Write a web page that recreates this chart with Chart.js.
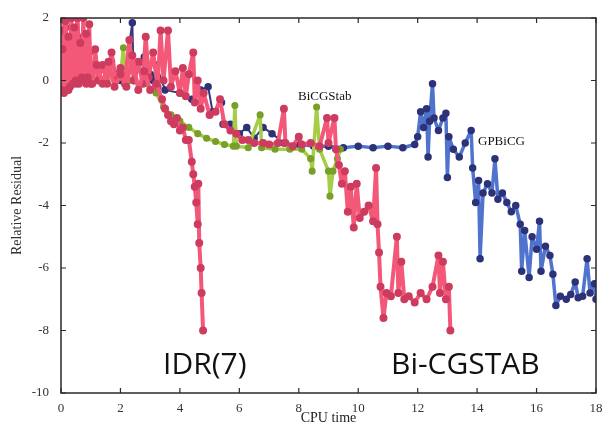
<!DOCTYPE html>
<html>
<head>
<meta charset="utf-8">
<script src="https://cdn.jsdelivr.net/npm/chart.js@4"></script>
<style>
  html, body { margin: 0; padding: 0; background: #fff; }
  #wrap { width: 605px; height: 427px; position: relative; }
</style>
</head>
<body>
<div id="wrap"><canvas id="chart" width="605" height="427"></canvas></div>
<script>
// values (CPU time vs log10 relative residual)
const xTicks = [0, 2, 4, 6, 8, 10, 12, 14, 16, 18];
const yTicks = [-10, -8, -6, -4, -2, 0, 2];

const idrX = [0, 0.05, 0.1, 0.15, 0.2, 0.25, 0.3, 0.35, 0.4, 0.45, 0.5, 0.55, 0.6, 0.65, 0.7, 0.75, 0.8, 0.85, 0.9, 0.95, 1.0, 1.2, 1.4, 1.6, 1.8, 2.0, 2.2, 2.4, 2.6, 2.8, 3.0, 3.2, 3.4, 3.5, 3.6, 3.7, 3.8, 3.9, 4.0, 4.1, 4.2, 4.3, 4.4, 4.45, 4.5, 4.55, 4.6, 4.62, 4.65, 4.7, 4.73, 4.78];
const idrY = [-0.3, 1.0, -0.4, 1.9, -0.3, 1.4, -0.2, 2.0, -0.1, 1.7, 0.0, 2.0, -0.1, 1.2, 0.1, 2.0, 0.0, 1.5, 0.1, 1.8, -0.1, 0.5, -0.1, 0.6, -0.2, 0.2, -0.2, 0.8, -0.3, 0.3, -0.3, -0.1, -0.6, -0.9, -1.1, -1.3, -1.4, -1.2, -1.6, -1.5, -1.9, -1.9, -2.6, -3.0, -3.4, -3.9, -4.6, -3.3, -5.2, -6.0, -6.8, -8.0];

const bicgX = [0, 0.08, 0.15, 0.25, 0.3, 0.35, 0.45, 0.5, 0.55, 0.65, 0.75, 0.85, 0.95, 1.05, 1.15, 1.25, 1.4, 1.55, 1.7, 1.85, 2.0, 2.15, 2.3, 2.45, 2.6, 2.75, 2.85, 2.95, 3.1, 3.25, 3.35, 3.45, 3.6, 3.7, 3.85,
  4.0, 4.1, 4.2, 4.3, 4.45, 4.5, 4.6, 4.7, 4.8, 5.0, 5.2, 5.35, 5.5, 5.7, 5.9, 6.1, 6.3, 6.5, 6.8, 7.0, 7.3, 7.5, 7.55, 7.8, 8.0, 8.1, 8.4, 8.7, 8.95, 9.0, 9.2, 9.25, 9.35, 9.45, 9.55, 9.65, 9.75, 9.85, 9.95,
  10.05, 10.2, 10.35, 10.5, 10.6, 10.65, 10.7, 10.75, 10.85, 10.95, 11.1, 11.3, 11.35, 11.45, 11.55, 11.7, 11.9, 12.1, 12.3, 12.5, 12.7, 12.75, 12.85, 12.95, 13.05, 13.1];
const bicgY = [-0.2, 1.6, 2.0, -0.3, 0.9, 1.7, 0.0, 1.1, 2.0, 0.2, 1.4, -0.1, 0.9, -0.1, 1.0, 0.0, 0.5, -0.1, 0.9, 0.0, 0.4, -0.1, 1.3, 0.0, 0.6, -0.1, 1.4, 0.1, 0.9, -0.2, 1.6, 0.0, 1.6, -0.2, 0.3,
  -0.4, 0.4, -0.5, 0.2, 0.9, -0.7, 0.0, -0.9, -0.4, -1.1, -1.0, -0.6, -1.4, -1.6, -1.7, -1.9, -1.9, -2.0, -2.0, -2.05, -2.0, -0.9, -2.0, -2.1, -1.8, -2.05, -2.0, -2.1, -1.2, -2.0, -1.2, -2.2, -2.7, -3.3, -2.9, -4.2, -3.4, -4.7, -3.3,
  -4.4, -4.2, -4.0, -4.5, -2.8, -4.6, -5.5, -6.6, -7.6, -6.8, -6.9, -5.0, -6.8, -5.8, -7.0, -6.9, -7.1, -6.8, -7.0, -6.6, -5.6, -6.8, -5.8, -7.0, -6.6, -8.0];

const stabX = [0, 0.3, 0.6, 1.0, 1.5, 2.0, 2.1, 2.15, 2.3, 2.8, 3.2, 3.45, 3.7, 4.0, 4.3, 4.6, 4.9, 5.2, 5.5, 5.8, 5.85, 5.9, 6.3, 6.7, 6.75, 7.2, 7.7, 8.1, 8.4, 8.45, 8.6, 8.7, 9.0, 9.05, 9.15, 9.3, 9.4];
const stabY = [-0.2, 0.3, 0.0, 0.2, 0.0, 0.1, 1.05, 0.3, 0.0, -0.1, -0.4, -0.85, -1.1, -1.3, -1.5, -1.7, -1.85, -1.95, -2.05, -2.1, -0.8, -2.1, -2.15, -1.1, -2.15, -2.2, -2.2, -2.2, -2.5, -2.9, -0.85, -2.2, -2.9, -3.7, -2.9, -2.5, -2.2];

const gpX = [0, 0.3, 0.5, 1.2, 1.4, 1.7, 2.0, 2.15, 2.4, 2.45, 2.8, 3.0, 3.1, 3.2, 3.5, 4.0, 4.4, 4.7, 4.95, 5.1, 5.4, 5.45, 5.7, 6.0, 6.25, 6.5, 6.8, 7.1, 7.5, 8.0, 8.5, 9.0, 9.5, 10.0, 10.5, 11.0, 11.5,
  11.9, 12.0, 12.1, 12.2, 12.3, 12.35, 12.4, 12.5, 12.55, 12.7, 12.85, 12.95, 13.0, 13.05, 13.2, 13.4, 13.6, 13.8, 13.85, 13.95, 14.05, 14.1, 14.2, 14.35, 14.5, 14.6, 14.7, 14.85, 15.0, 15.15, 15.3, 15.45, 15.5, 15.6, 15.75, 15.85, 16.0, 16.1, 16.15, 16.3, 16.45, 16.55, 16.65, 16.8, 17.0, 17.15, 17.3, 17.4, 17.55, 17.7, 17.8, 17.95, 18.0];
const gpY = [-0.2, 0.4, -0.1, 0.4, 0.0, 0.6, 0.0, 0.2, 1.85, 0.0, 0.75, 0.2, 0.0, 0.5, -0.3, -0.4, -0.6, -0.3, -0.2, -1.0, -0.7, -1.4, -1.4, -1.7, -1.5, -1.85, -1.5, -1.7, -2.0, -2.05, -2.1, -2.1, -2.15, -2.1, -2.15, -2.1, -2.15,
  -2.05, -1.8, -1.0, -1.5, -0.9, -2.45, -1.3, -0.1, -1.2, -1.6, -1.2, -1.05, -3.1, -1.8, -2.2, -2.45, -2.0, -1.6, -2.8, -3.9, -3.2, -5.7, -3.6, -3.3, -3.6, -2.5, -3.8, -3.6, -3.9, -4.2, -4.0, -4.6, -6.1, -4.8, -6.3, -5.0, -5.4, -4.5, -6.1, -5.3, -5.6, -6.2, -7.2, -6.9, -7.0, -6.85, -6.45, -6.95, -6.9, -5.7, -6.8, -6.5, -7.0];

const labels = [
  { text: "BiCGStab", x: 298, y: 100, font: "13px 'Liberation Serif'" },
  { text: "GPBiCG", x: 478, y: 145, font: "13px 'Liberation Serif'" },
  { text: "IDR(7)", x: 163, y: 374, font: "30px 'Open Sans'" },
  { text: "Bi-CGSTAB", x: 391, y: 374, font: "30px 'Open Sans'" }
];

function pts(xs, ys) {
  return xs.map((x, i) => ({ x: x, y: ys[i] }));
}

const red = "rgb(243,88,120)";
const navy = "rgb(55,55,125)";

// frame with small inward ticks on all four sides
const framePlugin = {
  id: "frame",
  afterDatasetsDraw(chart) {
    const c = chart.ctx;
    const a = chart.chartArea;
    const sx = chart.scales.x, sy = chart.scales.y;
    c.save();
    c.strokeStyle = "#2a2a2a";
    c.lineWidth = 1.5;
    c.strokeRect(a.left, a.top, a.right - a.left, a.bottom - a.top);
    c.lineWidth = 1.2;
    c.beginPath();
    xTicks.forEach(v => {
      const p = sx.getPixelForValue(v);
      c.moveTo(p, a.bottom); c.lineTo(p, a.bottom - 5);
      c.moveTo(p, a.top); c.lineTo(p, a.top + 5);
    });
    yTicks.forEach(v => {
      const p = sy.getPixelForValue(v);
      c.moveTo(a.left, p); c.lineTo(a.left + 5, p);
      c.moveTo(a.right, p); c.lineTo(a.right - 5, p);
    });
    c.stroke();
    c.fillStyle = "#111";
    c.textBaseline = "alphabetic";
    labels.forEach(l => {
      c.font = l.font;
      c.fillText(l.text, l.x, l.y);
    });
    c.restore();
  }
};

const ctx = document.getElementById("chart").getContext("2d");

const chart = new Chart(ctx, {
  type: "line",
  data: {
    datasets: [
      {
        label: "IDR(7)",
        data: pts(idrX, idrY),
        borderColor: red,
        backgroundColor: red,
        pointBorderColor: "rgb(205,60,95)",
        borderWidth: 4,
        pointRadius: 2
      },
      {
        label: "Bi-CGSTAB",
        data: pts(bicgX, bicgY),
        borderColor: red,
        backgroundColor: red,
        pointBorderColor: "rgb(205,60,95)",
        borderWidth: 4,
        pointRadius: 2
      },
      {
        label: "BiCGStab",
        data: pts(stabX, stabY),
        borderColor: "rgb(165,205,70)",
        backgroundColor: "rgb(150,190,60)",
        pointBorderColor: "rgb(120,160,40)",
        borderWidth: 3.5,
        pointRadius: 1.8
      },
      {
        label: "GPBiCG",
        data: pts(gpX, gpY),
        borderColor: "rgb(80,115,205)",
        backgroundColor: "rgb(60,70,150)",
        pointBorderColor: "rgb(45,50,120)",
        borderWidth: 3.5,
        pointRadius: 2,
        segment: {
          borderColor: s => s.p1.parsed.x < 8.5 ? navy : undefined,
          borderWidth: s => s.p1.parsed.x < 8.5 ? 2 : undefined
        }
      }
    ]
  },
  options: {
    responsive: false,
    animation: false,
    elements: {
      line: { borderJoinStyle: "round", borderCapStyle: "round" }
    },
    layout: { padding: { top: 18, right: 9, left: 0, bottom: 0 } },
    plugins: {
      legend: { display: false },
      tooltip: { enabled: false }
    },
    scales: {
      x: {
        type: "linear",
        min: 0,
        max: 18,
        grid: { display: false },
        border: { display: false },
        afterBuildTicks: s => { s.ticks = xTicks.map(v => ({ value: v })); },
        ticks: {
          color: "#333",
          font: { family: "Liberation Serif", size: 13 },
          padding: 0,
          maxRotation: 0
        },
        title: {
          display: true,
          text: "CPU time",
          color: "#222",
          font: { family: "Liberation Serif", size: 14 },
          padding: { top: -3, bottom: 0 }
        },
        afterFit: s => { s.height = 34; }
      },
      y: {
        type: "linear",
        min: -10,
        max: 2,
        grid: { display: false },
        border: { display: false },
        afterBuildTicks: s => { s.ticks = yTicks.map(v => ({ value: v })); },
        ticks: {
          color: "#333",
          font: { family: "Liberation Serif", size: 13 },
          padding: 4
        },
        title: {
          display: true,
          text: "Relative Residual",
          color: "#333",
          font: { family: "Liberation Serif", size: 14 },
          padding: { top: 9, bottom: 4 }
        },
        afterFit: s => { s.width = 61; }
      }
    }
  },
  plugins: [framePlugin]
});
</script>
</body>
</html>
